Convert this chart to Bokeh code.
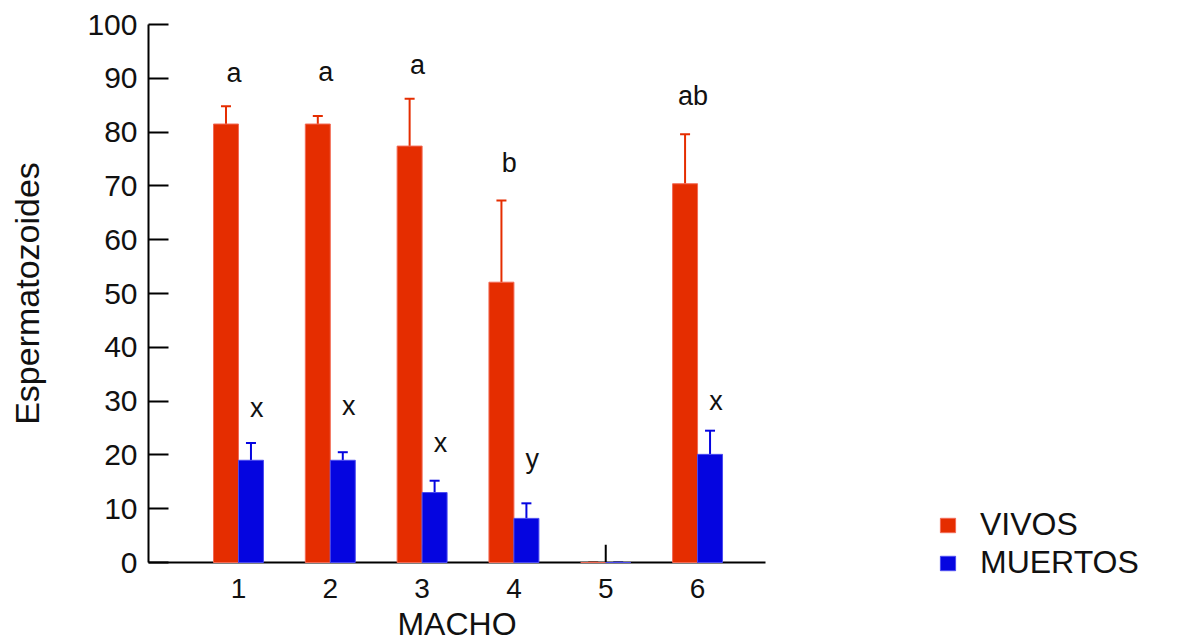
from bokeh.plotting import figure
from bokeh.models import (ColumnDataSource, Range1d, Whisker, TeeHead, Legend,
                          LegendItem, FixedTicker)
from bokeh.core.properties import value
from bokeh.embed import file_html
from bokeh.resources import INLINE

# ---------------- data ----------------
macho = [1, 2, 3, 4, 5, 6]
tick_labels = ["1", "2", "3", "4", "5", "6"]
vivos = [81.5, 81.5, 77.4, 52.1, 0.0, 70.4]
vivos_err = [3.3, 1.5, 8.8, 15.2, 0.0, 9.2]
muertos = [19.0, 19.0, 13.0, 8.2, 0.0, 20.1]
muertos_err = [3.2, 1.5, 2.2, 2.8, 0.0, 4.4]
letras_vivos = ["a", "a", "a", "b", "", "ab"]
letras_vivos_y = [90.9, 91.1, 92.4, 74.2, 0.0, 86.8]
letras_muertos = ["x", "x", "x", "y", "", "x"]
letras_muertos_y = [28.8, 29.0, 22.3, 19.3, 0.0, 30.1]

# ---------------- style ----------------
RED = "#E52D00"
RED_EDGE = "#F26A55"
BLUE = "#0505E0"
BLUE_EDGE = "#4B4BF0"
FONT = "Liberation Sans"
BAR_W = 0.272

x_red = [m - BAR_W / 2 for m in macho]
x_blue = [m + BAR_W / 2 for m in macho]

src_v = ColumnDataSource(dict(x=x_red, top=vivos,
                              up=[v + e for v, e in zip(vivos, vivos_err)]))
src_m = ColumnDataSource(dict(x=x_blue, top=muertos,
                              up=[v + e for v, e in zip(muertos, muertos_err)]))
src_lv = ColumnDataSource(dict(x=[m - 0.05 for m in macho], y=letras_vivos_y, t=letras_vivos))
src_lm = ColumnDataSource(dict(x=[m + 0.2 for m in macho], y=letras_muertos_y, t=letras_muertos))
src_tk = ColumnDataSource(dict(x=macho, y0=[0] * len(macho), y1=[3.3] * len(macho)))

p = figure(frame_width=617, frame_height=538, output_backend="svg", toolbar_location=None,
           x_range=Range1d(0.02, 6.74), y_range=Range1d(0, 100),
           min_border_left=148, min_border_right=405, min_border_top=24,
           min_border_bottom=79)
p.outline_line_color = None
p.grid.grid_line_color = None
p.background_fill_color = "white"
p.border_fill_color = "white"

# inward x tick marks drawn beneath the bars
p.segment(x0="x", y0="y0", x1="x", y1="y1", source=src_tk,
          line_color="black", line_width=2)

r_v = p.vbar(x="x", top="top", bottom=0, width=BAR_W, source=src_v,
             fill_color=RED, line_color=RED_EDGE, line_width=1, level="overlay")
r_m = p.vbar(x="x", top="top", bottom=0, width=BAR_W, source=src_m,
             fill_color=BLUE, line_color=BLUE_EDGE, line_width=1, level="overlay")

w_v = Whisker(base="x", lower="top", upper="up", source=src_v,
              line_color=RED, line_width=2, lower_head=None,
              upper_head=TeeHead(size=10, line_color=RED, line_width=2))
w_m = Whisker(base="x", lower="top", upper="up", source=src_m,
              line_color=BLUE, line_width=2, lower_head=None,
              upper_head=TeeHead(size=10, line_color=BLUE, line_width=2))
p.add_layout(w_v)
p.add_layout(w_m)

for s in (src_lv, src_lm):
    p.text(x="x", y="y", text="t", source=s, text_font=value(FONT),
           text_font_size="27px", text_align="center", text_baseline="middle",
           text_color="#111111")

# axes
for ax in (p.xaxis[0], p.yaxis[0]):
    ax.axis_line_color = "black"
    ax.axis_line_width = 2
    ax.major_label_text_font = FONT
    ax.major_label_text_color = "#111111"
    ax.axis_label_text_font = FONT
    ax.axis_label_text_font_style = "normal"
    ax.axis_label_text_color = "#111111"
    ax.minor_tick_line_color = None

p.yaxis.ticker = FixedTicker(ticks=list(range(0, 101, 10)))
p.yaxis.major_tick_in = 20
p.yaxis.major_tick_out = 0
p.yaxis.major_tick_line_width = 2
p.yaxis.major_label_text_font_size = "30px"
p.yaxis.major_label_standoff = 11
p.yaxis.axis_label = "Espermatozoides"
p.yaxis.axis_label_text_font_size = "34px"
p.yaxis.axis_label_standoff = 38

p.xaxis.ticker = FixedTicker(ticks=macho)
p.xaxis.major_label_overrides = {m: t for m, t in zip(macho, tick_labels)}
p.xaxis.major_tick_line_color = None
p.xaxis.major_tick_in = 0
p.xaxis.major_tick_out = 0
p.xaxis.major_label_text_font_size = "28px"
p.xaxis.major_label_standoff = 16
p.xaxis.axis_label = "MACHO"
p.xaxis.axis_label_text_font_size = "32px"
p.xaxis.axis_label_standoff = 5

legend = Legend(items=[LegendItem(label="VIVOS", renderers=[r_v]),
                       LegendItem(label="MUERTOS", renderers=[r_m])],
                location=(173, -19), orientation="vertical",
                border_line_color=None, background_fill_alpha=0,
                padding=0, margin=0, spacing=1,
                glyph_width=19, glyph_height=18, label_standoff=23,
                label_text_font=FONT, label_text_font_size="32px",
                label_text_color="#111111", label_height=36)
p.add_layout(legend, "right")

open("out.html", "w").write(file_html(p, INLINE))
